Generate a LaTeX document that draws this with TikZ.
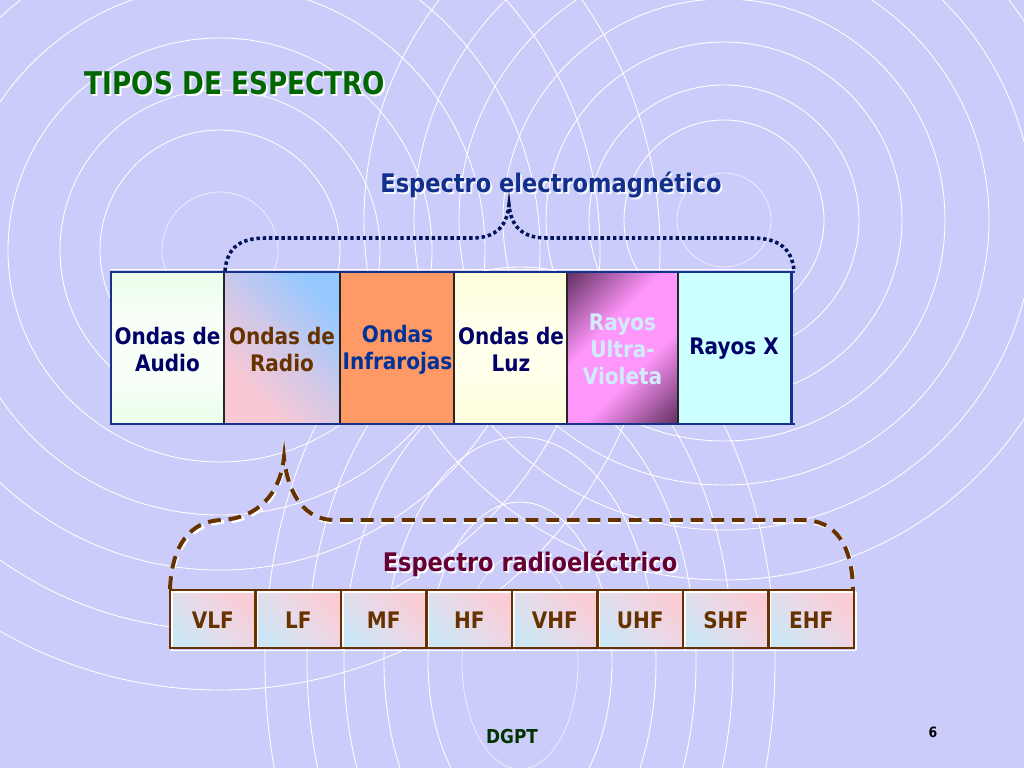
\documentclass[tikz,border=0pt]{standalone}
\usepackage{fontspec}
\setmainfont{DejaVu Sans}
\newfontfamily\tah[FakeStretch=0.88]{DejaVu Sans}
\newfontfamily\tahttl[FakeStretch=0.84]{DejaVu Sans}
\definecolor{bgc}{RGB}{204,204,250}
\definecolor{ttlgreen}{RGB}{0,102,0}
\definecolor{navyc}{RGB}{0,0,102}
\definecolor{embluec}{RGB}{16,48,140}
\definecolor{brownc}{RGB}{102,51,0}
\definecolor{maroonc}{RGB}{102,0,51}
\definecolor{irc}{RGB}{255,153,102}
\definecolor{barbluec}{RGB}{20,50,140}
\definecolor{bracenavy}{RGB}{0,20,90}
\definecolor{uvtextc}{RGB}{210,236,255}
\definecolor{xrayc}{RGB}{204,255,255}
\definecolor{dgptc}{RGB}{0,51,0}
\definecolor{infrablue}{RGB}{0,51,153}
\definecolor{audg}{RGB}{212,255,212}
\definecolor{audw}{RGB}{248,255,248}
\definecolor{luzy}{RGB}{255,255,192}
\definecolor{luzw}{RGB}{255,255,236}
\definecolor{radpink}{RGB}{248,200,212}
\definecolor{radmid}{RGB}{210,200,232}
\definecolor{radblue}{RGB}{150,200,255}
\definecolor{uvdark}{RGB}{100,50,100}
\definecolor{uvpink}{RGB}{255,150,250}
\definecolor{bandblue}{RGB}{204,230,245}
\definecolor{bandmid}{RGB}{232,218,232}
\definecolor{bandpink}{RGB}{250,204,212}
\pgfdeclareverticalshading{audiosh}{100bp}{color(0bp)=(audg); color(40bp)=(audw); color(60bp)=(audw); color(100bp)=(audg)}
\pgfdeclareverticalshading{luzsh}{100bp}{color(0bp)=(luzy); color(42bp)=(luzw); color(58bp)=(luzw); color(100bp)=(luzy)}
\pgfdeclarehorizontalshading{radiosh}{100bp}{color(0bp)=(radpink); color(30bp)=(radpink); color(50bp)=(radmid); color(75bp)=(radblue); color(100bp)=(radblue)}
\pgfdeclarehorizontalshading{uvsh}{100bp}{color(0bp)=(uvdark); color(15bp)=(uvdark); color(40bp)=(uvpink); color(60bp)=(uvpink); color(85bp)=(uvdark); color(100bp)=(uvdark)}
\pgfdeclarehorizontalshading{bandsh}{100bp}{color(0bp)=(bandblue); color(25bp)=(bandblue); color(50bp)=(bandmid); color(75bp)=(bandpink); color(100bp)=(bandpink)}
\begin{document}
\begin{tikzpicture}[x=0.703125pt,y=-0.703125pt,
  ring/.style={draw=white, line width=0.6pt},
  faintring/.style={draw=white, line width=0.5pt, opacity=0.7},
  celltxt/.style={font=\tah\bfseries\fontsize{16}{19}\selectfont, align=center, inner sep=0pt},
  bandtxt/.style={font=\tah\bfseries\fontsize{16}{19}\selectfont, text=brownc, inner sep=0pt},
  ttlstyle/.style={font=\tahttl\bfseries\fontsize{22}{26}\selectfont, anchor=base, inner sep=0pt},
  subttl/.style={font=\tah\bfseries\fontsize{18}{22}\selectfont, anchor=base, inner sep=0pt},
  barline/.style={draw=barbluec, line width=2.1pt},
  divline/.style={draw=black!85, line width=1.3pt},
  dotbrace/.style={draw=bracenavy, line width=2.5pt, dash pattern=on 2.4pt off 2.0pt},
  dashbrace/.style={draw=brownc, line width=2.8pt, dash pattern=on 9pt off 5.5pt},
  dashshadow/.style={draw=white, line width=2.8pt, dash pattern=on 9pt off 5.5pt},
  bandline/.style={draw=brownc, line width=1.8pt},
  bandshadow/.style={draw=white, line width=1.1pt}]
\useasboundingbox (0,0) rectangle (1024,768);
\fill[bgc] (0,0) rectangle (1024,768);
% background rings
\begin{scope}
\clip (0,0) rectangle (1024,768);
\draw[faintring] (220,250) circle[radius=58];
\foreach \r in {120,160,212,265,320,380,440}
  \draw[ring] (220,250) circle[radius=\r];
\draw[faintring] (724,220) circle[radius=47];
\foreach \r in {100,135,178,221,265,310,360}
  \draw[ring] (724,220) circle[radius=\r];
\draw[faintring] (520,662) ellipse[x radius=58, y radius=107];
\foreach \a/\b in {92/160,136/225,176/282,213/338,255/395}
  \draw[ring] (520,662) ellipse[x radius=\a, y radius=\b];
\end{scope}
% title
\node[ttlstyle, text=white] (ttlsh) at (237,97) {TIPOS DE ESPECTRO};
\node[ttlstyle, text=ttlgreen] (ttl) at (235,95) {TIPOS DE ESPECTRO};
% electromagnetic spectrum label
\node[subttl, text=white!85!bgc] (emsh) at (553,195) {Espectro electromagnético};
\node[subttl, text=embluec] (em) at (551,193) {Espectro electromagnético};
% bar cells
\shade[shading=audiosh] (111,273) rectangle (224,423);
\shade[shading=radiosh, shading angle=45] (224,273) rectangle (340,423);
\fill[irc] (340,273) rectangle (454,423);
\shade[shading=luzsh] (454,273) rectangle (567,423);
\shade[shading=uvsh, shading angle=-45] (567,273) rectangle (678,423);
\fill[xrayc] (678,273) rectangle (791,423);
\foreach \x in {224,340,454,567,678}
  \draw[divline] (\x,273) -- (\x,423);
\draw[white, line width=0.8pt] (110,269.3) -- (795,269.3);
\draw[barline] (110,272) -- (795,272);
\draw[barline] (110,424) -- (795,424);
\draw[barline] (111,272) -- (111,424);
\draw[barline] (791,272) -- (791,424);
% cell texts
\node[celltxt, text=navyc] (audio) at (167.5,349.5) {Ondas de\\Audio};
\node[celltxt, text=brownc] (radio) at (282,349.5) {Ondas de\\Radio};
\node[celltxt, text=infrablue] (infra) at (397.5,349.5) {Ondas\\Infrarojas};
\node[celltxt, text=navyc] (luz) at (511,349.5) {Ondas de\\Luz};
\node[celltxt, text=uvtextc] (uv) at (622.5,349) {Rayos\\Ultra-\\Violeta};
\node[celltxt, text=navyc] (xray) at (734,349) {Rayos X};
% top brace
\coordinate (embL) at (225,271);
\coordinate (embP) at (509,205);
\coordinate (embR) at (794,271);
\draw[dotbrace] (embL) .. controls (227,246) and (242,238) .. (266,238)
  -- (472,238) .. controls (496,238) and (507,226) .. (embP)
  .. controls (511,226) and (522,238) .. (546,238)
  -- (752,238) .. controls (778,238) and (792,248) .. (embR);
% radio spectrum label
\node[subttl, text=white] (rsh) at (532,573) {Espectro radioeléctrico};
\node[subttl, text=maroonc] (rs) at (530,571) {Espectro radioeléctrico};
% bottom brace
\coordinate (rbL) at (170,589);
\coordinate (rbP) at (284,457);
\coordinate (rbR) at (853,589);
\begin{scope}[shift={(2,2)}]
\draw[dashshadow] (rbL) .. controls (172,545) and (190,521) .. (222,520)
  .. controls (256,518) and (280,496) .. (rbP)
  .. controls (288,496) and (306,520) .. (334,520)
  -- (802,520) .. controls (836,520) and (852,545) .. (rbR);
\end{scope}
\draw[dashbrace] (rbL) .. controls (172,545) and (190,521) .. (222,520)
  .. controls (256,518) and (280,496) .. (rbP)
  .. controls (288,496) and (306,520) .. (334,520)
  -- (802,520) .. controls (836,520) and (852,545) .. (rbR);
% band row
\foreach \i in {0,...,7}{
  \pgfmathsetmacro\xa{170+85.5*\i}
  \pgfmathsetmacro\xb{170+85.5*(\i+1)}
  \shade[shading=bandsh, shading angle=45] (\xa,590) rectangle (\xb,648);
}
\foreach \i in {0,...,8}{
  \pgfmathsetmacro\xa{170+85.5*\i}
  \draw[bandshadow] (\xa+2,592) -- (\xa+2,650);
}
\draw[bandshadow] (171,592) -- (856,592);
\draw[bandshadow] (171,650.5) -- (856,650.5);
\foreach \i in {0,...,8}{
  \pgfmathsetmacro\xa{170+85.5*\i}
  \draw[bandline] (\xa,590) -- (\xa,648);
}
\draw[bandline] (169,590) -- (855,590);
\draw[bandline] (169,648) -- (855,648);
\node[bandtxt] (vlf) at (212.75,620.5) {VLF};
\node[bandtxt] (lf) at (298.25,620.5) {LF};
\node[bandtxt] (mf) at (383.75,620.5) {MF};
\node[bandtxt] (hf) at (469.25,620.5) {HF};
\node[bandtxt] (vhf) at (554.75,620.5) {VHF};
\node[bandtxt] (uhf) at (640.25,620.5) {UHF};
\node[bandtxt] (shf) at (725.75,620.5) {SHF};
\node[bandtxt] (ehf) at (811.25,620.5) {EHF};
% footer
\node[anchor=base, inner sep=0pt, font=\tah\bfseries\fontsize{13.5}{16}\selectfont, text=dgptc] (dgpt) at (512,743) {DGPT};
\node[anchor=base, inner sep=0pt, font=\tah\bfseries\fontsize{10}{12}\selectfont, text=black] (pnum) at (933,737) {6};
\end{tikzpicture}
\end{document}
